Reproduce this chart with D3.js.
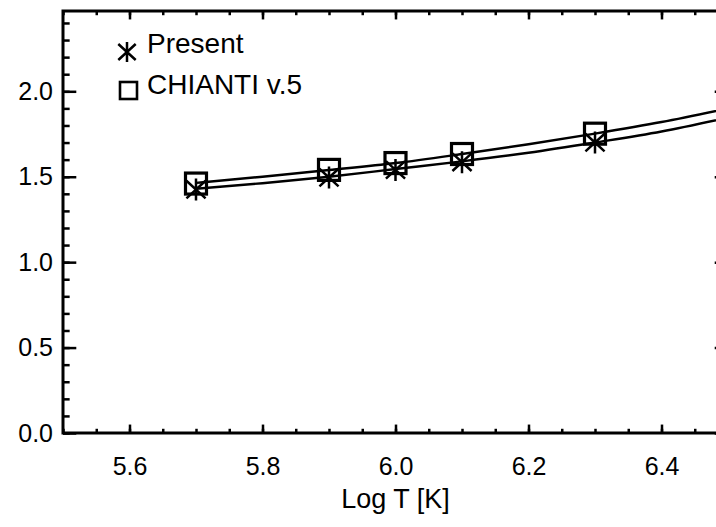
<!DOCTYPE html>
<html>
<head>
<meta charset="utf-8">
<script src="https://cdn.jsdelivr.net/npm/d3@7"></script>
<style>
body { margin: 0; background: #fff; }
svg { display: block; font-family: "Liberation Sans", Arial, sans-serif; }
</style>
</head>
<body>
<svg id="chart" width="716" height="527"></svg>
<script>
// points where both calculations are given
const logT = [5.7, 5.9, 6.0, 6.1, 6.3];
const present = [1.425, 1.495, 1.54, 1.585, 1.70];
const chianti = [1.46, 1.54, 1.58, 1.633, 1.752];

// the two smooth curves
const fitT = [5.7, 5.8, 5.9, 6.0, 6.1, 6.2, 6.3, 6.4, 6.5];
const presentFit = [1.43, 1.462, 1.50, 1.545, 1.59, 1.64, 1.70, 1.765, 1.846];
const chiantiFit = [1.464, 1.50, 1.539, 1.58, 1.633, 1.69, 1.752, 1.82, 1.90];

const xTicks = [5.6, 5.8, 6.0, 6.2, 6.4];
const yTicks = [0.0, 0.5, 1.0, 1.5, 2.0];
const legendLabels = ["Present", "CHIANTI v.5"];

const margin = {left: 63, top: 11};
const w = 665, h = 422;

const svg = d3.select("#chart");
const g = svg.append("g").attr("transform", `translate(${margin.left},${margin.top})`);

const x = d3.scaleLinear().domain([5.5, 6.5]).range([0, w]);
const y = d3.scaleLinear().domain([0, 2.47]).range([h, 0]);

// tick lengths like IDL: 2% of the plot size
const xMajor = 0.02 * h, yMajor = 0.02 * w;

function styleAxis(sel) {
    sel.select(".domain").remove();
    sel.selectAll("line").attr("stroke", "#000").attr("stroke-width", 2.5);
    sel.selectAll("text").attr("fill", "#000").attr("font-size", 25);
}

// bottom
g.append("g").attr("transform", `translate(0,${h})`)
    .call(d3.axisBottom(x).tickValues(x.ticks(20)).tickSize(-xMajor / 2).tickFormat(""))
    .call(styleAxis);
g.append("g").attr("transform", `translate(0,${h})`)
    .call(d3.axisBottom(x).tickValues(xTicks).tickSize(-xMajor).tickPadding(24).tickFormat(d3.format(".1f")))
    .call(styleAxis);
// top
g.append("g")
    .call(d3.axisTop(x).tickValues(x.ticks(20)).tickSize(-xMajor / 2).tickFormat(""))
    .call(styleAxis);
g.append("g")
    .call(d3.axisTop(x).tickValues(xTicks).tickSize(-xMajor).tickFormat(""))
    .call(styleAxis);
// left
g.append("g")
    .call(d3.axisLeft(y).tickValues(y.ticks(25)).tickSize(-yMajor / 2).tickFormat(""))
    .call(styleAxis);
g.append("g")
    .call(d3.axisLeft(y).tickValues(yTicks).tickSize(-yMajor).tickPadding(10).tickFormat(d3.format(".1f")))
    .call(styleAxis);
// right
g.append("g").attr("transform", `translate(${w},0)`)
    .call(d3.axisRight(y).tickValues(y.ticks(25)).tickSize(-yMajor / 2).tickFormat(""))
    .call(styleAxis);
g.append("g").attr("transform", `translate(${w},0)`)
    .call(d3.axisRight(y).tickValues(yTicks).tickSize(-yMajor).tickFormat(""))
    .call(styleAxis);

// frame
g.append("rect")
    .attr("width", w).attr("height", h)
    .attr("fill", "none").attr("stroke", "#000").attr("stroke-width", 3);

// x title
g.append("text")
    .attr("x", w / 2).attr("y", h + 75)
    .attr("text-anchor", "middle")
    .attr("font-size", 27)
    .text("Log T [K]");

// curves
const line = d3.line()
    .x((d, i) => x(fitT[i]))
    .y(d => y(d))
    .curve(d3.curveMonotoneX);

[presentFit, chiantiFit].forEach(s => {
    g.append("path").datum(s)
        .attr("d", line)
        .attr("fill", "none").attr("stroke", "#000").attr("stroke-width", 2.4);
});

function asterisk(sel, r) {
    const dx = r * 0.87, dy = r * 0.8;
    sel.append("path")
        .attr("d", `M0,${-r}L0,${r}M${-dx},${-dy}L${dx},${dy}M${-dx},${dy}L${dx},${-dy}`)
        .attr("stroke", "#000").attr("stroke-width", 2.5).attr("fill", "none");
}

// markers
const sq = 21;
g.selectAll(".sq").data(chianti).join("rect")
    .attr("class", "sq")
    .attr("x", (d, i) => x(logT[i]) - sq / 2)
    .attr("y", d => y(d) - sq / 2)
    .attr("width", sq).attr("height", sq)
    .attr("fill", "none").attr("stroke", "#000").attr("stroke-width", 3.2);

g.selectAll(".ast").data(present).join("g")
    .attr("class", "ast")
    .attr("transform", (d, i) => `translate(${x(logT[i])},${y(d)})`)
    .each(function () { asterisk(d3.select(this), 11); });

// legend
const leg = svg.append("g");
leg.append("g").attr("transform", "translate(127,52)")
    .each(function () { asterisk(d3.select(this), 10); });
leg.append("rect")
    .attr("x", 120).attr("y", 82).attr("width", 17).attr("height", 17)
    .attr("fill", "none").attr("stroke", "#000").attr("stroke-width", 2.6);
leg.selectAll("text").data(legendLabels).join("text")
    .attr("x", 147)
    .attr("y", (d, i) => 53 + i * 41)
    .attr("font-size", 28)
    .text(d => d);
</script>
</body>
</html>
